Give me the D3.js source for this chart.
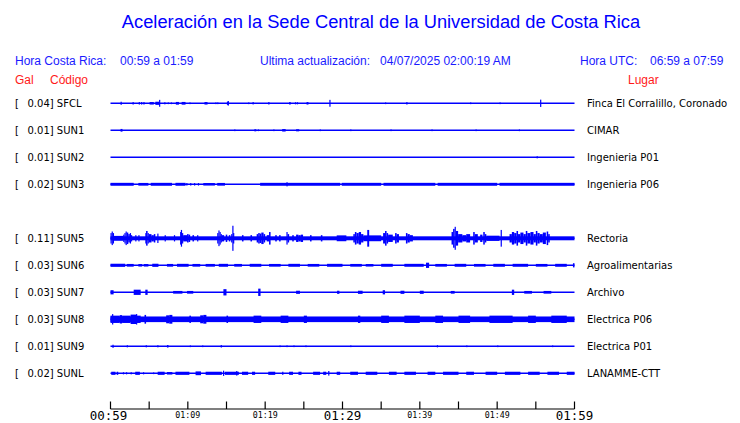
<!DOCTYPE html>
<html><head><meta charset="utf-8">
<script src="https://cdn.jsdelivr.net/npm/d3@7/dist/d3.min.js"></script>
<style>body{margin:0;background:#fff}svg{display:block}</style>
</head><body><svg id="c" width="740" height="423"></svg>
<script>
// ---------- data ----------
const codes  = ["SFCL","SUN1","SUN2","SUN3","SUN5","SUN6","SUN7","SUN8","SUN9","SUNL"];
const peakGal = ["0.04","0.01","0.01","0.02","0.11","0.03","0.03","0.03","0.01","0.02"];
const places = ["Finca El Corralillo, Coronado","CIMAR","Ingenieria P01","Ingenieria P06","Rectoria","Agroalimentarias","Archivo","Electrica P06","Electrica P01","LANAMME-CTT"];
const slots  = [0,1,2,3,5,6,7,8,9,10];           // row slot (SUN4 absent)
const baseAmp = [0,0,0,0,1.9,0,0,2.7,0,0];        // background envelope, 0.01 Gal
// bursts: [start minute, end minute, envelope amplitude in 0.01 Gal]
const sfcl = [[1.3,1.45,1.5],[2.85,2.95,1.2],[3.65,3.75,1.2],[3.95,4.05,1.2],[4.25,4.35,1.2],[5.05,5.6,1.2],[5.8,6.35,1.5],[6.28,6.38,3.3],[6.95,7.05,1],[7.4,7.5,0.8],[7.8,7.9,0.8],[8.45,8.85,1.3],[9.2,9.7,1.3],[10.2,10.3,0.8],[12.15,12.55,1.2],[13.55,13.65,0.8],[13.8,13.9,0.8],[15.05,15.3,1.5],[15.15,15.25,2.2],[17.8,17.9,0.8],[18.35,18.55,1],[20.4,20.55,1.2],[23.1,23.3,1.2],[23.85,23.95,1],[24.1,24.2,1],[25.35,25.6,1.2],[28.3,28.45,3.3],[35.5,35.6,0.8],[38.25,38.4,1.2],[46.5,46.6,0.8],[50.3,50.4,0.8],[55.55,55.7,3.5]];
const sun1 = [[1.3,1.55,1.3],[16.0,16.1,0.8],[18.6,18.85,1],[19.05,19.15,0.8],[21.05,21.15,0.8],[22.2,22.65,1.2],[24.0,24.4,1],[27.05,27.15,0.8],[31,31.1,0.8],[36.2,36.3,0.8],[41.5,41.6,0.8],[47.2,47.3,0.8],[52.8,52.9,0.8]];
const sun2 = [[55.1,55.2,1]];
const sun3 = [[0,3.0,1.4],[3.6,4.9,1.3],[5.2,7.95,1.4],[8.4,9.7,1.4],[9.8,9.9,1.2],[10.3,10.4,1.2],[10.8,10.9,1.2],[11.3,11.4,1.2],[12,13.5,1.2],[13.8,14.8,1.3],[19.35,29.7,1.4],[22.75,22.85,2],[29.9,35,1.4],[35.3,42,1.4],[42.3,50,1.4],[50.3,60,1.4]];
const sun5 = [[0,0.15,5],[0.15,0.3,6.5],[0.3,0.43,5],[0.43,1.64,2.3],
  [1.64,1.8,3.5],[1.8,1.95,5],[1.95,2.1,6.5],[2.1,2.3,5.5],[2.3,2.5,4],[2.5,2.65,5],[2.65,2.8,3],
  [3.2,3.3,3],[3.6,3.7,3],[4.5,4.6,5],[4.6,4.8,7],[4.8,4.95,5],
  [4.95,5.3,4],[5.3,5.6,3],[5.6,5.8,4],[6.05,6.15,4.5],[7.0,7.1,3],[8.2,8.3,3],
  [9.0,9.1,6],[9.1,9.25,8],[9.25,9.35,5],[9.4,9.9,3],[9.9,10.1,4],[10.1,10.3,3.5],[10.6,10.8,3],[11.2,11.3,3],
  [13.8,13.95,5],[13.95,14.1,7.5],[14.1,14.25,6],[14.25,14.4,4],[14.4,14.7,3],[14.9,15.1,3.5],[15.3,15.5,3],
  [15.6,15.75,4],[15.75,15.85,12],[15.85,16.0,5],[17,17.2,3],[18.1,18.3,3],
  [18.9,19.1,4],[19.1,19.3,5],[19.3,19.5,4.5],[19.5,19.8,5.5],[19.8,20.0,4],[20.2,20.5,3],[20.5,20.7,6],
  [21.3,21.5,3],[21.8,22.0,3],[22.75,22.9,6],[22.9,23.1,4],
  [23.5,23.7,3],[24.0,24.3,3.5],[24.3,24.6,3],[24.6,24.9,3.5],[25.8,26.0,3],[27.2,27.4,3],
  [29.25,30.5,2.8],[31.4,31.6,4],[31.6,31.8,6],[31.8,32.1,5],[32.1,32.4,6],[32.4,32.7,4],
  [32.7,35.0,2.8],[33.2,33.45,8],[35.25,35.5,5],[35.5,35.7,7],[35.7,35.9,5],
  [35.9,36.5,3.5],[36.8,37.0,5],[37.0,37.3,4],[38.2,38.4,5],[38.4,38.7,4],[38.7,39.1,3],
  [44.1,44.3,6],[44.3,44.5,9],[44.5,44.65,11],[44.65,44.95,7],
  [44.95,45.5,4],[45.5,46,3],[46,46.5,4],[46.9,47.1,6],[47.1,47.5,4],[47.8,48.1,3.5],[48.2,48.4,6],[48.4,48.6,4],
  [48.6,50.3,2.5],[50.45,50.6,8],
  [51.6,51.9,4],[51.9,52.2,6],[52.2,52.5,5],[52.5,52.7,7],[52.7,53.0,4],[53.0,53.4,5.5],[53.4,53.7,4],[53.7,53.9,7],
  [53.9,54.3,5],[54.3,54.7,6],[54.7,55.0,4],[55.0,55.2,7],[55.2,55.5,5],[55.5,55.9,4],[55.9,56.3,5.5],[56.4,56.6,6.5],[56.6,56.8,4]];
const sun6 = [[0,1.9,1.5],[2.1,3.0,1.3],[3.6,4.1,1.2],[4.3,4.9,1.2],[5.4,6.2,1.5],[7.3,8.1,1.3],[8.6,10.1,1.4],[10.6,11.6,1.3],[12.3,13.5,1.3],[14,15.2,1.4],[16,17,1.3],[18,19.5,1.4],[20.5,22,1.3],[23,24.5,1.4],[25.5,27,1.3],[28,30,1.4],[31,32.5,1.3],[33,34,1.2],[35,36.5,1.4],[38,40.5,1.4],[40.8,41.2,2.5],[42,43.5,1.3],[44.5,46,1.4],[47,48.5,1.3],[49.5,51,1.4],[52,54,1.4],[55,56.5,1.3],[57.5,59,1.4],[59.8,60,2]];
const sun7 = [[0,0.4,2],[3.0,3.9,2.5],[4.5,4.8,2.5],[8.1,9.3,1.3],[9.9,10.7,1.3],[14.6,15.0,3],[19.1,19.4,3.5],[24,24.5,1.5],[29.3,29.6,1.5],[32,32.6,1.5],[35.2,35.5,2],[37.5,38,1.5],[40,40.5,1.5],[44,44.5,1.3],[51.9,52.2,2.5],[53.5,54.5,1.3],[56,57,1.3]];
const sun8 = [[0,0.2,3.5],[0.2,0.3,5],[0.3,1.2,3.5],[1.2,1.5,4],[1.5,2.6,3.5],[2.6,3.3,4.5],[3.3,3.4,5],[3.4,3.9,3.5],[4.4,4.6,4.2],[7.2,7.6,3.8],[7.6,8.0,4.2],[10.2,10.4,3.5],[11.6,12.0,3.8],[12.0,12.4,4.2],[15,15.2,3.5],[18.5,19.5,3.5],[22,23,3.5],[25,25.4,3.5],[32,32.3,3.5],[35,36,3.5],[38,40,3.5],[42,43,3.5],[45,46.5,3.5],[49,52,3.5],[54,55,3.5],[57,59,3.5]];
const sun9 = [[0.25,0.35,1.5],[2.1,2.2,1],[4.55,4.65,1],[6.05,6.15,1],[7.3,7.5,1.2],[10.25,10.35,0.8],[11.85,11.95,0.8],[14.25,14.4,1.2],[21.85,21.95,0.8],[22.75,22.85,0.8],[23.65,23.75,0.8],[25.2,25.3,0.8],[31,31.1,0.8],[42.2,42.3,1],[46,46.1,0.8],[50,50.1,0.8],[57.1,57.2,0.8]];
const sunl = [[0.1,0.65,1.5],[0.8,1.0,1.5],[1.6,1.7,1],[2.0,2.15,1],[2.6,2.7,1],[3.2,3.8,1.5],[4.2,4.3,1],[5.5,5.6,0.8],[6.1,7.0,1.5],[7.3,8.0,1.2],[8.4,10.2,1.5],[11,11.7,1.8],[12.3,14.4,1.5],[14.55,14.65,2.5],[14.8,16.6,1.5],[16.25,16.35,2.2],[17,17.8,1.5],[18.3,18.7,1.5],[20.4,21.3,1.5],[22.2,22.3,1.5],[23.1,23.6,1.5],[24.3,24.7,1.5],[26.2,27.1,1.5],[27.5,27.9,1.5],[28.15,28.25,2.2],[29.25,29.7,1.5],[31,32,1.5],[33,34.5,1.5],[36,37,1.5],[38,39.5,1.5],[41,42,1.5],[43,45,1.5],[46,47,1.5],[48.5,50,1.5],[51,53,1.5],[54,55.5,1.5],[56.5,58,1.5],[59,60,1.5]];
const bursts = [sfcl,sun1,sun2,sun3,sun5,sun6,sun7,sun8,sun9,sunl];
const tickMinutes = d3.range(0,61,5);
const tickLabels = ["00:59","01:09","01:19","01:29","01:39","01:49","01:59"];
const majorLabels = ["00:59","01:29","01:59"];

// ---------- drawing ----------
const svg = d3.select("#c");
const BLUE = "#0000ff", HBLUE = "#1a1aff", RED = "#ff1a1a";
const x = d3.scaleLinear().domain([0,60]).range([110.5,574.5]);
const y = d3.scalePoint().domain(d3.range(11)).range([103.3,373.3]);
const amp = d3.scaleLinear().domain([0,11]).range([0,11.5]);
const SANS = "Liberation Sans, Arial, sans-serif";

svg.append("text").attr("x",381).attr("y",28).attr("text-anchor","middle")
  .attr("font-family",SANS).attr("font-size",18.3).attr("fill",BLUE)
  .text("Aceleración en la Sede Central de la Universidad de Costa Rica");

const hdr = [["Hora Costa Rica:",15],["00:59 a 01:59",120],["Ultima actualización:\u00a0\u00a0 04/07/2025 02:00:19 AM",260],["Hora UTC:",580],["06:59 a 07:59",650]];
hdr.forEach(h=>svg.append("text").attr("x",h[1]).attr("y",65).attr("fill",HBLUE)
  .attr("font-family",SANS).attr("font-size",12).text(h[0]));
[["Gal",15],["Código",50],["Lugar",628]].forEach(h=>svg.append("text").attr("x",h[1]).attr("y",84)
  .attr("fill",RED).attr("font-family",SANS).attr("font-size",12).text(h[0]));

const rows = svg.append("g").selectAll("g").data(codes).join("g")
  .attr("transform",(d,i)=>`translate(0,${y(slots[i])})`);

rows.append("text").attr("x",15).attr("y",4).attr("font-family","DejaVu Sans, sans-serif")
  .attr("font-size",10).attr("fill","#000").text("[");
rows.append("text").attr("x",27.5).attr("y",4).attr("font-family","DejaVu Sans, sans-serif")
  .attr("font-size",10).attr("fill","#000").text((d,i)=>`${peakGal[i]}] ${d}`);
rows.append("text").attr("x",587).attr("y",4).attr("font-family","DejaVu Sans, sans-serif")
  .attr("font-size",10).attr("fill","#000").text((d,i)=>places[i]);

rows.each(function(d,i){
  const g = d3.select(this);
  if (baseAmp[i] > 0) {
    g.append("rect").attr("x",x(0)).attr("width",x(60)-x(0))
      .attr("y",-amp(baseAmp[i])).attr("height",2*amp(baseAmp[i])).attr("fill",BLUE);
  }
  g.selectAll("rect.b").data(bursts[i]).join("rect").attr("class","b")
    .attr("x",b=>x(b[0])).attr("width",b=>Math.max(1.2,x(b[1])-x(b[0])))
    .attr("y",b=>-amp(b[2])).attr("height",b=>2*amp(b[2])).attr("fill",BLUE);
  g.append("line").attr("x1",x(0)).attr("x2",x(60)).attr("y1",0).attr("y2",0)
    .attr("stroke",BLUE).attr("stroke-width",1.4);
});

// axis
const axisG = svg.append("g").attr("transform","translate(0,409)");
axisG.append("line").attr("x1",x(0)).attr("x2",x(60)).attr("stroke","#000").attr("stroke-width",1.2);
axisG.selectAll("line.t").data(tickMinutes).join("line").attr("class","t")
  .attr("x1",d=>x(d)).attr("x2",d=>x(d)).attr("y1",-7.5).attr("y2",0).attr("stroke","#000").attr("stroke-width",1.2);
axisG.selectAll("text").data(tickLabels).join("text")
  .attr("x",(d,i)=>x(i*10) - (i===0?2:0)).attr("text-anchor","middle")
  .attr("y",d=>majorLabels.includes(d)?10.5:8.5)
  .attr("font-family","DejaVu Sans Mono, monospace")
  .attr("font-size",d=>majorLabels.includes(d)?12.5:8.3)
  .attr("fill","#000").text(d=>d);
</script></body></html>
